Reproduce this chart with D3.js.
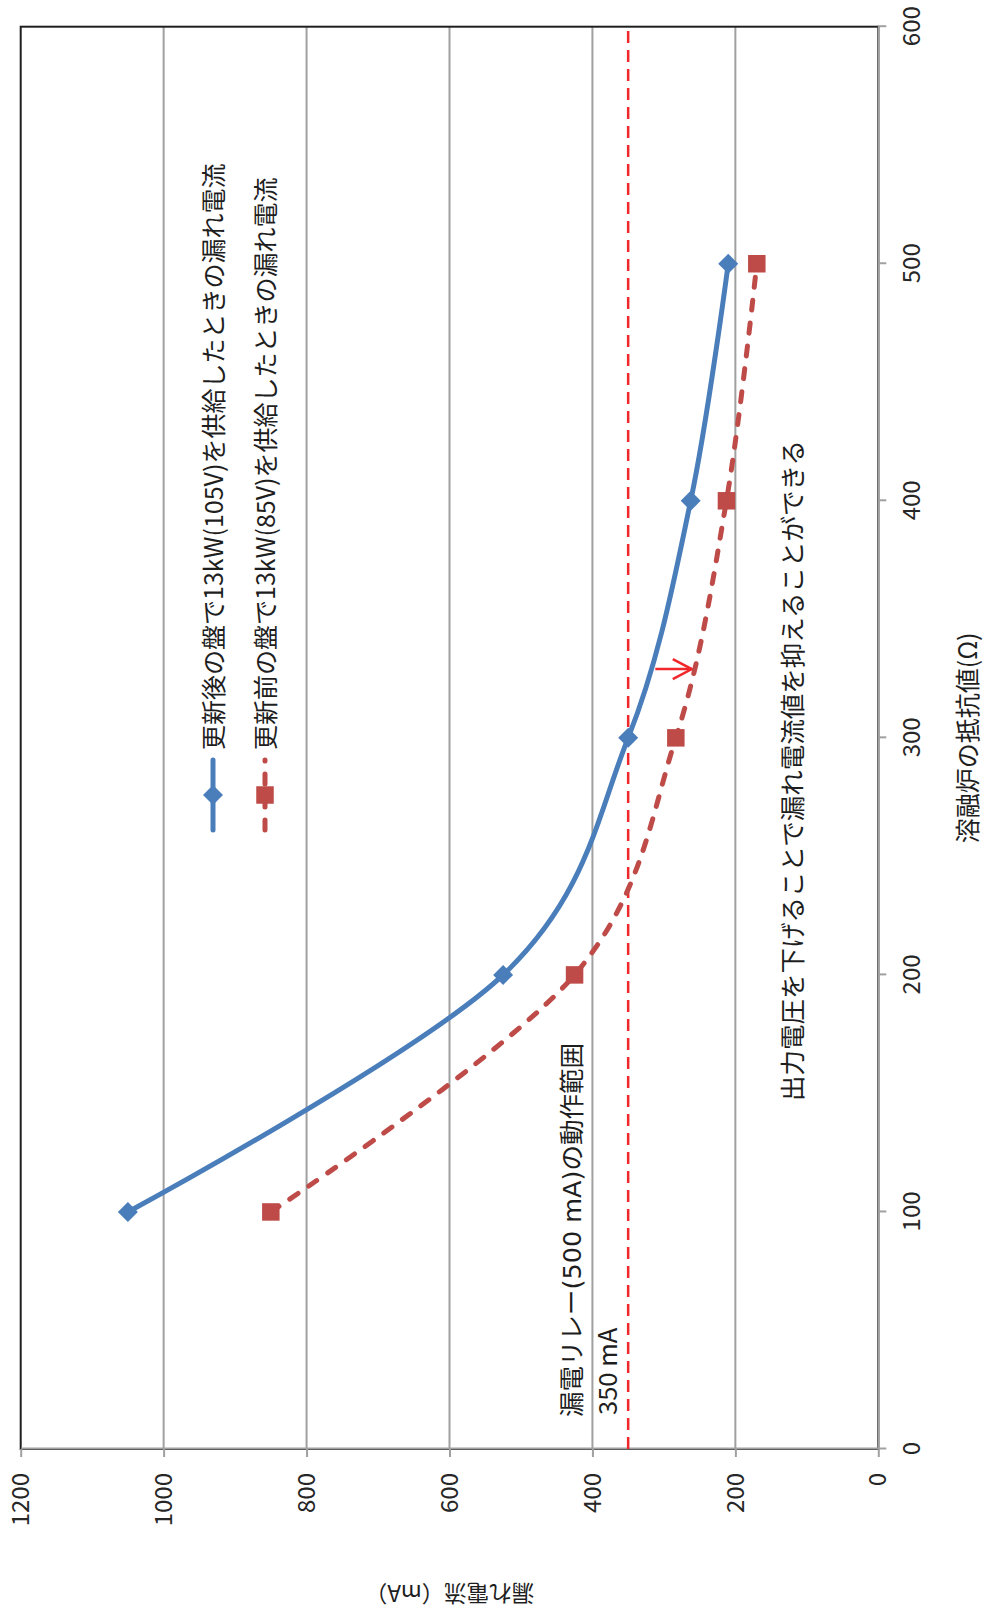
<!DOCTYPE html>
<html>
<head>
<meta charset="utf-8">
<script src="https://cdn.jsdelivr.net/npm/d3@7"></script>
<style>
  html, body { margin: 0; padding: 0; background: #ffffff; }
  svg { display: block; }
</style>
</head>
<body>
<svg id="chart" width="985" height="1619"></svg>
<script>
// Resistance of the melting furnace (Ω)
const resistances = [100, 200, 300, 400, 500];
// Leakage current (mA): renewed panel supplying 13 kW at 105 V
const leakNew = [1050, 525, 350, 262.5, 210];
// Leakage current (mA): old panel supplying 13 kW at 85 V
const leakOld = [850, 425, 283.3, 212.5, 170];

const xTicks = [0, 100, 200, 300, 400, 500, 600];
const yTicks = [0, 200, 400, 600, 800, 1000, 1200];
const gridValues = [200, 400, 600, 800, 1000];

const seriesNames = [
  "更新後の盤で13kW(105V)を供給したときの漏れ電流",
  "更新前の盤で13kW(85V)を供給したときの漏れ電流"
];
const xTitle = "溶融炉の抵抗値(Ω)";
const yTitle = "漏れ電流（mA）";

// Relay trip threshold and the arrow showing the reduction
const relayLimit = 350;          // mA
const arrowAt = 329;             // Ω
const arrowFrom = 312;           // mA
const arrowTo = 261;             // mA

const W = 985, H = 1619;
const jp = '"Noto Sans CJK JP", sans-serif';
const jpWide = '"DejaVu Sans", "Noto Sans CJK JP", sans-serif';
const blue = "#4A7EBB", red = "#BE4B48", limitRed = "#F0282B";
const axisGray = "#A0A0A0", ink = "#1E1E1E";

const svg = d3.select("#chart");

// The chart is laid out in its own frame and turned a quarter turn
// so the resistance axis runs up the right-hand side of the page.
const g = svg.append("g").attr("transform", `translate(0,${H}) rotate(-90)`);

const plot = { left: 170, right: 1592.3, top: 20.7, bottom: 878.3 };

const x = d3.scaleLinear().domain([0, 600]).range([plot.left, plot.right]);
const y = d3.scaleLinear().domain([0, 1200]).range([plot.bottom, plot.top]);

// Horizontal gridlines
g.append("g").selectAll("line").data(gridValues).join("line")
  .attr("x1", plot.left).attr("x2", plot.right)
  .attr("y1", d => y(d)).attr("y2", d => y(d))
  .attr("stroke", axisGray).attr("stroke-width", 2);

// Plot area border
g.append("rect")
  .attr("x", plot.left).attr("y", plot.top)
  .attr("width", plot.right - plot.left).attr("height", plot.bottom - plot.top)
  .attr("fill", "none").attr("stroke", "#1f1f1f").attr("stroke-width", 2);

// Axes
const plain = d3.format("d");
const xAxis = g.append("g")
  .attr("transform", `translate(0,${plot.bottom})`)
  .call(d3.axisBottom(x).tickValues(xTicks).tickFormat(plain)
    .tickSize(8).tickSizeOuter(0).tickPadding(17));
const yAxis = g.append("g")
  .attr("transform", `translate(${plot.left},0)`)
  .call(d3.axisLeft(y).tickValues(yTicks).tickFormat(plain)
    .tickSize(8).tickSizeOuter(0).tickPadding(16));

[xAxis, yAxis].forEach(a => {
  a.select(".domain").attr("stroke", axisGray).attr("stroke-width", 2);
  a.selectAll(".tick line").attr("stroke", axisGray).attr("stroke-width", 2);
  a.selectAll(".tick text")
    .attr("fill", "#262626")
    .style("font-family", jp)
    .style("font-size", "24px");
});

// Relay operating threshold
g.append("line")
  .attr("x1", plot.left).attr("x2", plot.right)
  .attr("y1", y(relayLimit)).attr("y2", y(relayLimit))
  .attr("stroke", limitRed).attr("stroke-width", 2.5)
  .attr("stroke-dasharray", "12,7");

// Arrow from the renewed-panel curve to the old-panel curve
const defs = svg.append("defs");
defs.append("marker")
  .attr("id", "openHead")
  .attr("markerUnits", "userSpaceOnUse")
  .attr("markerWidth", 24).attr("markerHeight", 24)
  .attr("refX", 19).attr("refY", 10)
  .attr("orient", "auto")
  .style("overflow", "visible")
  .append("path")
  .attr("d", "M0,0L19,10L0,20")
  .attr("fill", "none").attr("stroke", limitRed).attr("stroke-width", 2.5);

g.append("line")
  .attr("x1", x(arrowAt)).attr("x2", x(arrowAt))
  .attr("y1", y(arrowFrom)).attr("y2", y(arrowTo))
  .attr("stroke", limitRed).attr("stroke-width", 2.5)
  .attr("marker-end", "url(#openHead)");

// Series
const newPts = resistances.map((r, i) => [r, leakNew[i]]);
const oldPts = resistances.map((r, i) => [r, leakOld[i]]);
const line = d3.line().x(d => x(d[0])).y(d => y(d[1])).curve(d3.curveCatmullRom.alpha(0));

g.append("path").datum(oldPts)
  .attr("d", line).attr("fill", "none")
  .attr("stroke", red).attr("stroke-width", 5)
  .attr("stroke-linecap", "round").attr("stroke-dasharray", "10,13");

g.append("path").datum(newPts)
  .attr("d", line).attr("fill", "none")
  .attr("stroke", blue).attr("stroke-width", 5)
  .attr("stroke-linejoin", "round");

const diamond = d3.symbol(d3.symbolSquare, 200);
const square = d3.symbol(d3.symbolSquare, 306);

g.append("g").selectAll("path").data(oldPts).join("path")
  .attr("d", square)
  .attr("transform", d => `translate(${x(d[0])},${y(d[1])})`)
  .attr("fill", red);

g.append("g").selectAll("path").data(newPts).join("path")
  .attr("d", diamond)
  .attr("transform", d => `translate(${x(d[0])},${y(d[1])}) rotate(45)`)
  .attr("fill", blue);

// Legend
const legend = [
  { name: seriesNames[0], color: blue, dash: null, symbol: diamond, turn: 45, row: 213 },
  { name: seriesNames[1], color: red, dash: "10,13", symbol: square, turn: 0, row: 265 }
];
const legendLine = { start: 789, end: 859, mark: 824, text: 869 };
legend.forEach(item => {
  const lg = g.append("g");
  lg.append("line")
    .attr("x1", legendLine.start).attr("x2", legendLine.end)
    .attr("y1", item.row).attr("y2", item.row)
    .attr("stroke", item.color).attr("stroke-width", 5)
    .attr("stroke-linecap", "round")
    .attr("stroke-dasharray", item.dash);
  lg.append("path")
    .attr("d", item.symbol)
    .attr("transform", `translate(${legendLine.mark},${item.row}) rotate(${item.turn})`)
    .attr("fill", item.color);
  lg.append("text")
    .attr("x", legendLine.text).attr("y", item.row + 9.5)
    .attr("fill", ink)
    .style("font-family", jp).style("font-size", "25px")
    .text(item.name);
});

// Annotations
g.append("text")
  .attr("x", 202).attr("y", 581)
  .attr("fill", ink)
  .style("font-family", jpWide).style("font-size", "25.5px")
  .text("漏電リレー(500 mA)の動作範囲");
g.append("text")
  .attr("x", 204).attr("y", 617)
  .attr("fill", ink)
  .style("font-family", jp).style("font-size", "25.5px")
  .text(relayLimit + " mA");
g.append("text")
  .attr("x", 848.5).attr("y", 801.5)
  .attr("text-anchor", "middle")
  .attr("fill", ink)
  .style("font-family", jp).style("font-size", "25.5px")
  .text("出力電圧を下げることで漏れ電流値を抑えることができる");

// Axis titles
g.append("text")
  .attr("x", (plot.left + plot.right) / 2).attr("y", 977)
  .attr("text-anchor", "middle")
  .attr("fill", ink)
  .style("font-family", jp).style("font-size", "25px")
  .text(xTitle);
g.append("text")
  .attr("transform", `translate(34,${(plot.top + plot.bottom) / 2}) rotate(-90)`)
  .attr("text-anchor", "middle")
  .attr("fill", ink)
  .style("font-family", jp).style("font-size", "22.5px")
  .text(yTitle);
</script>
</body>
</html>
